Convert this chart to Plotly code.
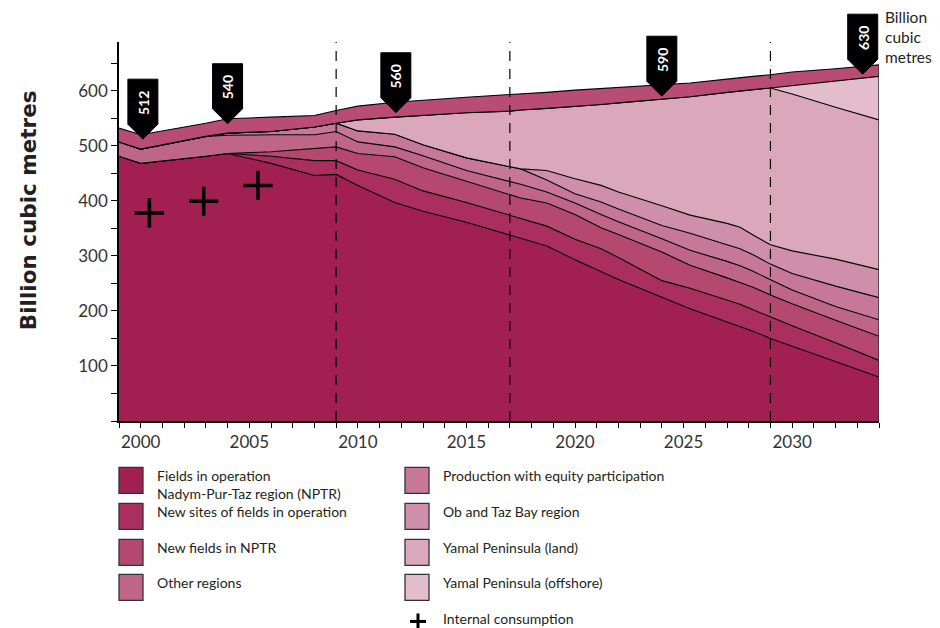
import plotly.graph_objects as go

# ---------------- data ----------------
years = [1999, 2000, 2003, 2004, 2006, 2008, 2009, 2010, 2011.7, 2013, 2015, 2017, 2017.5,
         2018.7, 2020, 2021.2, 2022, 2024, 2025.3, 2027, 2027.6, 2028.2, 2029, 2030, 2032, 2034]

fields_in_operation = [481, 468, 481, 486, 468, 446, 448, 428, 397, 381, 361, 338, 333,
                       318, 293, 271, 257, 225, 204, 180, 172, 163, 150, 136, 108, 80]
new_sites = [0, 0, 0, 0, 13, 27, 25, 28, 42, 37, 36, 36, 36,
             36, 37, 42, 40, 30, 37, 40, 40, 39, 39, 37, 34, 30]
new_fields_nptr = [0, 0, 0, 0, 8, 22, 25, 30, 41, 42, 38, 36, 36,
                   42, 45, 38, 42, 52, 42, 40, 40, 41, 40, 40, 41, 44]
other_regions = [26, 26, 36, 33, 31, 25, 28, 21, 18, 22, 20, 25, 25,
                 20, 21, 24, 23, 24, 27, 30, 30, 29, 28, 25, 25, 30]
equity_participation = [0, 0, 0, 4, 6, 14, 15, 20, 23, 20, 23, 27, 28,
                        22, 17, 23, 23, 24, 31, 30, 31, 30, 28, 30, 37, 40]
ob_taz_bay = [0, 0, 0, 0, 0, 0, 0, 0, 0, 0, 0, 0, 0,
              17, 27, 30, 31, 36, 33, 39, 39, 36, 35, 41, 49, 51]
yamal_land = [0, 0, 0, 0, 0, 0, 0, 20, 31, 53, 82, 101, 107,
              113, 131, 147, 162, 194, 215, 238, 248, 264, 285, 285, 276, 272]
yamal_offshore = [0, 0, 0, 0, 0, 0, 0, 0, 0, 0, 0, 0, 0,
                  0, 0, 0, 0, 0, 0, 0, 0, 0, 0, 15, 47, 79]
top_band = [25, 26, 24, 26, 26, 21, 23, 25, 27, 28, 28, 30, 29,
            29, 30, 29, 28, 26, 25, 24, 24, 24, 24, 25, 23, 21]

series_names = ["Fields in operation<br>Nadym-Pur-Taz region (NPTR)",
                "New sites of fields in operation",
                "New fields in NPTR",
                "Other regions",
                "Production with equity participation",
                "Ob and Taz Bay region",
                "Yamal Peninsula (land)",
                "Yamal Peninsula (offshore)"]

consumption_years = [2000.4, 2002.9, 2005.4]
consumption_values = [378, 399, 428]
consumption_name = "Internal consumption"

total_label_years = [2000.1, 2004, 2011.75, 2024, 2033.25]
total_label_values = [512, 540, 560, 590, 630]

period_lines = [2009, 2017, 2029]

x_ticks = list(range(1999, 2035))
y_ticks = list(range(0, 700, 50))
X_RANGE = [1999, 2034]
Y_RANGE = [0, 688.5]

# ---------------- styling ----------------
colors = ["#a21f52", "#aa2e5e", "#b4486f", "#bf6588", "#c77898",
          "#cf8ea9", "#dba7bb", "#e4bdcc"]
top_color = "#b84c74"
FONT = "Lato"
TXT = "#231f20"

OFF = 8  # page body margin: screen pixel = figure pixel + 8
W, H = 940, 628
ML, MT = 111, 34
PW, PH = 760, 378.7
MR = W - ML - PW
MB = H - MT - PH


def px(x):   # screen x pixel -> paper
    return (x - OFF - ML) / PW


def py(y):   # screen y pixel -> paper
    return (MT + PH - (y - OFF)) / PH


def data_to_paper_x(v):
    return (v - X_RANGE[0]) / (X_RANGE[1] - X_RANGE[0])


def data_to_paper_y(v):
    return (v - Y_RANGE[0]) / (Y_RANGE[1] - Y_RANGE[0])


fig = go.Figure()
stack = [fields_in_operation, new_sites, new_fields_nptr, other_regions,
         equity_participation, ob_taz_bay, yamal_land, yamal_offshore]
for vals, name, col in zip(stack, series_names, colors):
    fig.add_trace(go.Scatter(x=years, y=vals, name=name, stackgroup="gas",
                             mode="lines", line=dict(color="black", width=1.1),
                             fillcolor=col, showlegend=False, hoverinfo="skip"))
fig.add_trace(go.Scatter(x=years, y=top_band, name="", stackgroup="gas",
                         mode="lines", line=dict(color="black", width=1.1),
                         fillcolor=top_color, showlegend=False, hoverinfo="skip"))

# right border of the stacked area
total_last = sum(s[-1] for s in stack) + top_band[-1]
fig.add_trace(go.Scatter(x=[years[-1], years[-1]], y=[0, total_last], mode="lines",
                         line=dict(color="#333", width=1.5), showlegend=False,
                         hoverinfo="skip"))

# internal consumption crosses
fig.add_trace(go.Scatter(x=consumption_years, y=consumption_values, mode="markers",
                         marker=dict(symbol="cross-thin", size=21,
                                     line=dict(color="black", width=3.5)),
                         name=consumption_name, showlegend=False, hoverinfo="skip"))

shapes = []
for yr in period_lines:
    shapes.append(dict(type="line", xref="x", yref="paper", x0=yr, x1=yr, y0=0, y1=1,
                       line=dict(color="black", width=1.2, dash="10px,8px"), layer="above"))

annotations = []
for yr, val in zip(total_label_years, total_label_values):
    shapes.append(dict(type="path", xref="paper", yref="paper", xsizemode="pixel",
                       ysizemode="pixel", xanchor=data_to_paper_x(yr),
                       yanchor=data_to_paper_y(val),
                       path="M 0 0 L -15 15 L -15 60 L 15 60 L 15 15 Z",
                       fillcolor="black", line=dict(color="black", width=1),
                       layer="above"))
    annotations.append(dict(x=yr, y=val, xref="x", yref="y", yshift=36,
                            text="<b>%d</b>" % val, textangle=-90, showarrow=False,
                            font=dict(family=FONT, size=14, color="white"),
                            xanchor="center", yanchor="middle"))

annotations.append(dict(x=px(883), y=py(6), xref="paper", yref="paper",
                        text="Billion<br>cubic<br>metres", showarrow=False,
                        xanchor="left", yanchor="top", align="left",
                        font=dict(family=FONT, size=15.5, color=TXT)))
annotations.append(dict(x=px(28), y=py(210), xref="paper", yref="paper",
                        text="<b>Billion cubic metres</b>", textangle=-90,
                        showarrow=False, xanchor="center", yanchor="middle",
                        font=dict(family="DejaVu Sans", size=21.5, color=TXT)))

# manual legend
legend_cols = [(119, 155, [0, 1, 2, 3]), (405, 441, [4, 5, 6, 7])]
row_tops = [467, 503, 539, 574]
for sq_x, tx_x, idxs in legend_cols:
    for row, i in zip(row_tops, idxs):
        shapes.append(dict(type="rect", xref="paper", yref="paper",
                           x0=px(sq_x), x1=px(sq_x + 24), y0=py(row), y1=py(row + 26),
                           fillcolor=colors[i], line=dict(color="#333", width=1.3)))
        annotations.append(dict(x=px(tx_x), y=py(row - 2), xref="paper", yref="paper",
                                text=series_names[i], showarrow=False, xanchor="left",
                                yanchor="top", align="left",
                                font=dict(family=FONT, size=14, color=TXT)))
cx, cy = 418, 621
shapes.append(dict(type="line", xref="paper", yref="paper", x0=px(cx - 8), x1=px(cx + 8),
                   y0=py(cy), y1=py(cy), line=dict(color="black", width=3)))
shapes.append(dict(type="line", xref="paper", yref="paper", x0=px(cx), x1=px(cx),
                   y0=py(cy - 8), y1=py(cy + 8), line=dict(color="black", width=3)))
annotations.append(dict(x=px(441), y=py(608), xref="paper", yref="paper",
                        text=consumption_name, showarrow=False, xanchor="left",
                        yanchor="top", font=dict(family=FONT, size=14, color=TXT)))

fig.update_layout(
    width=W, height=H,
    margin=dict(l=ML, r=MR, t=MT, b=MB, pad=0),
    paper_bgcolor="white", plot_bgcolor="white",
    showlegend=False,
    shapes=shapes, annotations=annotations,
    font=dict(family=FONT, color=TXT),
    xaxis=dict(range=X_RANGE, tickvals=x_ticks,
               ticktext=[str(t) if t % 5 == 0 else "" for t in x_ticks],
               ticks="outside", ticklen=5, tickwidth=1, tickcolor="black",
               showline=True, linecolor="black", linewidth=1.5, showgrid=False,
               zeroline=False, tickfont=dict(family=FONT, size=17, color="#333")),
    yaxis=dict(range=Y_RANGE, tickvals=y_ticks,
               ticktext=[str(t) if (t % 100 == 0 and 0 < t <= 600) else "" for t in y_ticks],
               ticks="outside", ticklen=6, tickwidth=1, tickcolor="black",
               showline=True, linecolor="black", linewidth=1.5, showgrid=False,
               zeroline=False, tickfont=dict(family=FONT, size=17, color="#333")),
)

fig.write_html("out.html")
